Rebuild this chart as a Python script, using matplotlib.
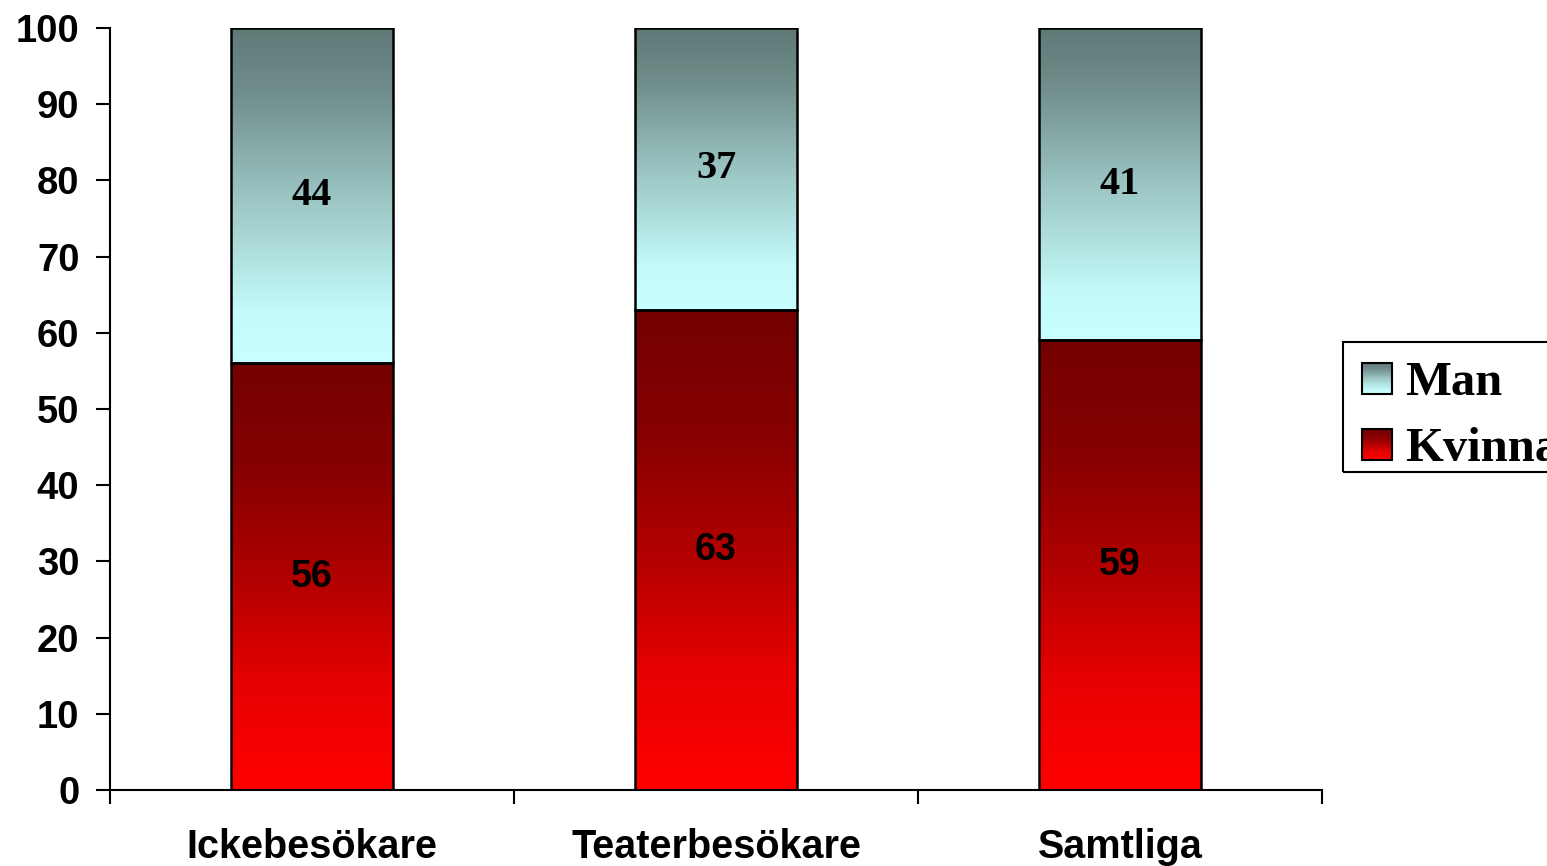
import numpy as np
import matplotlib.pyplot as plt
from matplotlib.colors import LinearSegmentedColormap
from matplotlib.patches import Rectangle
from matplotlib.legend_handler import HandlerBase

categories = ["Ickebesökare", "Teaterbesökare", "Samtliga"]
kvinna = [56, 63, 59]
man = [44, 37, 41]

# vertical gradients, bottom -> top
cmap_kvinna = LinearSegmentedColormap.from_list(
    "kvinna", ["#ff0000", "#e60000", "#b00000", "#860000", "#730000"])
cmap_man = LinearSegmentedColormap.from_list(
    "man", [(0.0, "#c8ffff"), (0.15, "#c4fbfa"), (0.5, "#9ac4c2"),
            (0.8, "#718f8c"), (1.0, "#5e7876")])

sans = "Liberation Sans"
serif = "Liberation Serif"

W, H = 1547, 866
fig = plt.figure(figsize=(W / 100, H / 100), dpi=100)
ax = fig.add_axes([110 / W, 1 - 790 / H, 1212 / W, 762 / H])

x = np.arange(len(categories))
width = 0.4
grad = np.linspace(0, 1, 256).reshape(-1, 1)


def gradient_bar(xc, bottom, height, cmap):
    ax.imshow(grad, extent=[xc - width / 2, xc + width / 2, bottom, bottom + height],
              origin="lower", aspect="auto", cmap=cmap, zorder=2)
    ax.bar(xc, height, width, bottom=bottom, facecolor="none",
           edgecolor="black", linewidth=1.8, zorder=3)


for i in x:
    gradient_bar(i, 0, kvinna[i], cmap_kvinna)
    gradient_bar(i, kvinna[i], man[i], cmap_man)
    ax.text(i, kvinna[i] / 2, str(kvinna[i]), ha="center", va="center",
            fontsize=27, fontweight="bold", family=sans, zorder=4)
    ax.text(i, kvinna[i] + man[i] / 2, str(man[i]), ha="center", va="center",
            fontsize=29, fontweight="bold", family=serif, zorder=4)

ax.set_xlim(-0.5, 2.5)
ax.set_ylim(0, 100)
ax.set_yticks(range(0, 101, 10))
ax.set_xticks([-0.5, 0.5, 1.5, 2.5])
ax.set_xticklabels([])
ax.set_xticks(x, minor=True)
ax.set_xticklabels(categories, minor=True)

for side in ["top", "right"]:
    ax.spines[side].set_visible(False)
for side in ["left", "bottom"]:
    ax.spines[side].set_linewidth(1.5)

ax.tick_params(axis="y", direction="out", length=10, width=1.5, pad=12,
               labelsize=27.5)
ax.tick_params(axis="x", which="major", direction="out", length=10, width=1.5)
ax.tick_params(axis="x", which="minor", length=0, pad=27, labelsize=28.5)
for lab in ax.get_yticklabels() + ax.get_xticklabels(minor=True):
    lab.set_fontfamily(sans)
    lab.set_fontweight("bold")


class GradientHandler(HandlerBase):
    def __init__(self, cmap):
        super().__init__()
        self.cmap = cmap

    def create_artists(self, legend, orig_handle, xdescent, ydescent,
                       width, height, fontsize, trans):
        n = 30
        arts = []
        for k in range(n):
            arts.append(Rectangle((-xdescent, -ydescent + height * k / n),
                                  width, height / n + 0.3,
                                  facecolor=self.cmap((k + 0.5) / n),
                                  edgecolor="none", transform=trans))
        arts.append(Rectangle((-xdescent, -ydescent), width, height,
                              facecolor="none", edgecolor="black",
                              linewidth=1.5, transform=trans))
        return arts


h_man = Rectangle((0, 0), 1, 1)
h_kvinna = Rectangle((0, 0), 1, 1)
leg = fig.legend([h_man, h_kvinna], ["Man", "Kvinna"],
                 handler_map={h_man: GradientHandler(cmap_man),
                              h_kvinna: GradientHandler(cmap_kvinna)},
                 loc="upper left", bbox_to_anchor=(1343 / W, 1 - 342 / H),
                 borderaxespad=0, frameon=False,
                 prop={"family": serif, "weight": "bold", "size": 35},
                 handlelength=0.6, handleheight=0.6, handletextpad=0.27,
                 labelspacing=0.45, borderpad=0.4)

# legend box, running off the right edge
fig.patches.append(Rectangle((1343 / W, 1 - 472 / H), 300 / W, 130 / H,
                             transform=fig.transFigure, facecolor="none",
                             edgecolor="black", linewidth=1.5))

fig.savefig("out.png", dpi=100)
